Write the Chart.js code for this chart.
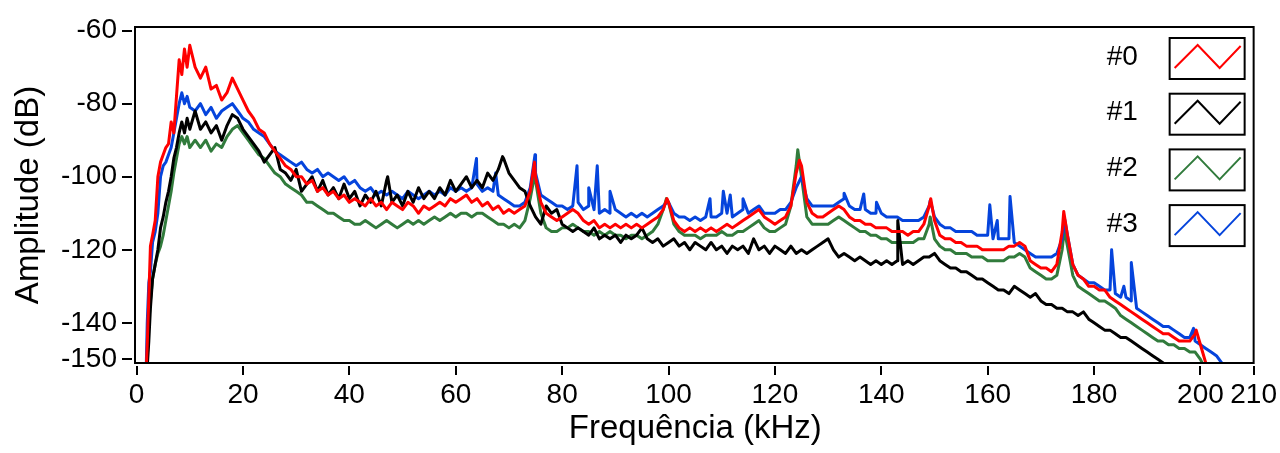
<!DOCTYPE html>
<html>
<head>
<meta charset="utf-8">
<script src="https://cdn.jsdelivr.net/npm/chart.js@4/dist/chart.umd.min.js"></script>
<style>
  html, body { margin: 0; padding: 0; background: #fff; }
  #wrap { width: 1280px; height: 453px; position: relative; }
</style>
</head>
<body>
<div id="wrap"><canvas id="c" width="1280" height="453"></canvas></div>
<script>
// ---- data (frequency in kHz, amplitude in dB) ----
const freq = [
  1.8, 2, 2.3, 2.6, 3, 3.5, 4, 4.5, 5, 5.5, 6, 6.5, 7, 7.5, 8, 8.5, 9, 9.5, 10,
  11, 12, 13, 14, 15, 16, 17, 18, 19, 20,
  21, 22, 23, 24, 25, 26, 27, 28, 29, 30,
  31, 32, 33, 34, 35, 36, 37, 38, 39, 40,
  41, 42, 43, 44, 45, 46, 47, 48, 49, 50,
  51, 52, 53, 54, 55, 56, 57, 58, 59, 60,
  61, 62, 63, 64, 65, 66, 67, 68, 69, 70,
  71, 72, 73, 74, 75, 76, 77, 78, 79, 80,
  81, 82, 83, 84, 85, 86, 87, 88, 89, 90,
  91, 92, 93, 94, 95, 96, 97, 98, 99, 100,
  101, 102, 103, 104, 105, 106, 107, 108, 109, 110,
  111, 112, 113, 114, 115, 116, 117, 118, 119, 120,
  121, 122, 123, 124, 125, 126, 127, 128, 129, 130,
  131, 132, 133, 134, 135, 136, 137, 138, 139, 140,
  141, 142, 143, 144, 145, 146, 147, 148, 149, 150,
  151, 152, 153, 154, 155, 156, 157, 158, 159, 160,
  161, 162, 163, 164, 165, 166, 167, 168, 169, 170,
  171, 172, 173, 174, 175, 176, 177, 178, 179, 180,
  181, 182, 183, 184, 185, 186, 187, 188, 189, 190,
  191, 192, 193, 194, 195, 196, 197, 198, 199, 200,
  201, 202, 203, 204, 205
];

const series0 = [ // #0 red
  -153, -146, -133, -119, -116, -112, -100, -96, -94, -92, -91, -85, -88, -78, -68, -72, -65, -70, -64,
  -70, -73, -70, -76, -75, -79, -77, -73, -76, -79,
  -82, -84, -87, -88, -91, -93, -95, -97, -98, -100,
  -100, -102, -101, -104, -103, -105, -104, -106, -105, -107,
  -106, -107, -108, -106, -108, -107, -109, -107, -108, -109,
  -107, -108, -110, -108, -109, -108, -107, -108, -106, -107,
  -106, -105, -107, -106, -108, -107, -109, -108, -110, -109,
  -110, -109, -108, -104, -100, -107, -110, -111, -112, -111,
  -110, -109, -110, -112, -113, -112, -114, -113, -114, -113,
  -114, -113, -114, -113, -114, -113, -112, -111, -109, -107,
  -112, -114, -115, -114, -115, -114, -115, -114, -115, -114,
  -113, -114, -113, -112, -111, -110, -109, -111, -112, -113,
  -112, -111, -108, -99, -97, -107, -110, -111, -111, -110,
  -109, -108, -109, -111, -112, -112, -113, -113, -114, -114,
  -114, -115, -115, -115, -116, -115, -115, -113, -108, -112,
  -116, -117, -117, -118, -118, -119, -119, -119, -120, -120,
  -120, -120, -120, -119, -119, -118, -119, -123, -124, -125,
  -125, -126, -124, -115, -116, -124, -127, -128, -130, -130,
  -131, -131, -133, -134, -135, -136, -137, -138, -139, -140,
  -141, -142, -143, -143, -144, -145, -145, -145, -143, -146,
  -151, -154, null, null, null
];

const series1 = [ // #1 black
  -153, -152, -145, -136, -128, -124, -120, -114, -111, -107, -104, -100, -95, -92, -88, -85, -88, -84, -87,
  -82, -87, -85, -88, -86, -90, -86, -83, -84, -87,
  -89, -91, -93, -96, -94, -92, -98, -99, -101, -98,
  -104, -102, -100, -104, -101, -105, -103, -106, -102, -106,
  -104, -108, -105, -107, -104, -108, -101, -107, -105, -108,
  -104, -107, -103, -106, -104, -106, -103, -105, -101, -104,
  -102, -100, -103, -101, -103, -99, -101, -98, -95, -99,
  -101, -103, -104, -108, -111, -113, -108, -110, -109, -113,
  -114, -115, -114, -115, -116, -114, -117, -116, -117, -116,
  -118, -116, -117, -116, -114, -117, -118, -117, -119, -118,
  -117, -119, -118, -120, -118, -119, -120, -118, -120, -119,
  -121, -119, -120, -119, -121, -117, -120, -119, -121, -119,
  -120, -121, -119, -121, -120, -121, -120, -119, -118, -117,
  -120, -122, -121, -122, -123, -122, -123, -124, -123, -124,
  -123, -124, -123, -124, -123, -124, -123, -122, -122, -121,
  -123, -124, -125, -125, -126, -126, -127, -128, -128, -129,
  -130, -131, -131, -132, -130, -131, -132, -133, -132, -134,
  -135, -135, -136, -136, -137, -137, -138, -137, -139, -140,
  -141, -142, -142, -143, -144, -144, -145, -146, -147, -148,
  -149, -150, -151, -153, null, null, null, null, null, null,
  null, null, null, null, null
];

const series2 = [ // #2 green
  -153, -150, -140, -134, -128, -124, -121, -119, -116, -112, -108, -104, -99, -95, -91, -89, -91, -89, -92,
  -90, -92, -90, -93, -91, -92, -89, -87, -86, -88,
  -90, -92, -94, -95, -97, -99, -100, -102, -103, -104,
  -105, -107, -107, -108, -109, -110, -110, -111, -112, -112,
  -113, -113, -112, -113, -114, -113, -112, -113, -114, -113,
  -112, -113, -112, -113, -112, -111, -112, -111, -110, -111,
  -110, -110, -111, -110, -110, -111, -112, -113, -113, -114,
  -113, -114, -112, -106, -101, -110, -114, -115, -115, -114,
  -114, -113, -114, -115, -115, -116, -115, -116, -115, -116,
  -116, -117, -116, -116, -117, -116, -115, -113, -109, -107,
  -113, -115, -116, -116, -116, -117, -116, -116, -116, -115,
  -116, -116, -115, -115, -114, -113, -112, -114, -115, -115,
  -114, -113, -108, -97, -100, -111, -113, -113, -113, -113,
  -112, -111, -112, -113, -114, -115, -115, -116, -116, -117,
  -117, -118, -118, -118, -118, -118, -117, -117, -113, -117,
  -119, -120, -120, -121, -121, -121, -122, -122, -122, -123,
  -123, -123, -123, -122, -122, -121, -122, -125, -126, -127,
  -128, -128, -127, -120, -119, -127, -130, -131, -132, -133,
  -134, -134, -135, -136, -138, -139, -140, -141, -142, -143,
  -144, -145, -145, -146, -146, -147, -147, -148, -148, -150,
  -153, null, null, null, null
];

const series3 = [ // #3 blue
  -153, -140, -129, -126, -118, -115, -110, -100, -97, -96, -94, -92, -88, -84, -80, -77, -80, -78, -81,
  -82, -80, -83, -81, -84, -82, -81, -80, -82, -84,
  -85, -87, -88, -89, -91, -93, -94, -95, -96, -97,
  -96, -98, -99, -98, -100, -99, -100, -101, -100, -102,
  -101, -103, -104, -103, -105, -104, -105, -104, -105, -106,
  -104, -105, -106, -105, -104, -105, -104, -105, -103, -104,
  -103, -104, -103, -102, -104, -103, -104, -105, -106, -107,
  -108, -108, -107, -103, -99, -105, -106, -107, -108, -108,
  -109, -108, -107, -109, -108, -109, -110, -109, -110, -109,
  -110, -111, -110, -111, -110, -111, -110, -109, -108, -107,
  -110, -111, -111, -112, -111, -112, -111, -111, -111, -110,
  -110, -111, -110, -109, -110, -109, -108, -110, -110, -110,
  -109, -109, -107, -103, -100, -106, -108, -108, -108, -108,
  -108, -107, -106, -108, -109, -109, -109, -110, -110, -110,
  -111, -111, -111, -112, -112, -112, -112, -111, -108, -111,
  -113, -114, -114, -115, -115, -115, -115, -116, -116, -116,
  -117, -117, -117, -117, -118, -119, -120, -121, -122, -122,
  -122, -122, -121, -117, -116, -124, -127, -128, -129, -129,
  -130, -131, -131, -132, -133, -133, -134, -136, -137, -138,
  -139, -140, -141, -141, -142, -143, -144, -144, -145, -146,
  -147, -148, -149, -151, -153
];

// narrow peaks / spikes [kHz, dB]
const peaks0 = [[74.8, -96], [99.7, -106], [124.6, -95.5], [149.3, -106], [174.3, -109.5], [199.2, -142]];
const peaks1 = [[47.2, -100], [68.8, -94.5], [143.1, -112]];
const peaks2 = [[74.9, -99], [99.6, -106], [124.3, -92.6], [149.2, -111], [174.4, -114.5]];
const peaks3 = [[63.9, -95], [67.5, -99], [74.9, -94], [82.8, -97], [85, -103], [86.6, -97], [89, -104],
  [99.7, -107], [107.8, -106], [110.3, -104], [111.6, -105], [114, -106], [133, -104.5], [136.7, -104.7],
  [139.1, -107], [149.2, -106.5], [160.4, -107.7], [161.8, -112], [164.2, -105.4], [174.5, -111.8],
  [183.3, -120], [185.6, -130], [187, -123.5], [198.7, -141.5]];

const seriesNames = ['#0', '#1', '#2', '#3'];
const seriesColors = ['#ff0000', '#000000', '#317b3c', '#0544dc'];
const xTicks = [0, 20, 40, 60, 80, 100, 120, 140, 160, 180, 200, 210];
const yTicks = [-60, -80, -100, -120, -140, -150];
const xTitle = 'Frequência (kHz)';
const yTitle = 'Amplitude (dB)';

// ---- build datasets ----
function build(vals, peaks) {
  const pts = freq.map((f, i) => ({ x: f, y: vals[i] }));
  peaks.forEach(p => pts.push({ x: p[0], y: p[1] }));
  pts.sort((a, b) => a.x - b.x);
  return pts;
}
const allVals = [series0, series1, series2, series3];
const allPeaks = [peaks0, peaks1, peaks2, peaks3];
const drawOrder = [0, 1, 3, 2]; // red on top, then black, blue, green beneath

const datasets = allVals.map((v, i) => ({
  label: seriesNames[i],
  data: build(v, allPeaks[i]),
  borderColor: seriesColors[i],
  backgroundColor: seriesColors[i],
  borderWidth: 3,
  pointRadius: 0,
  tension: 0,
  spanGaps: false,
  borderJoinStyle: 'round',
  order: drawOrder[i]
}));

const FONT = '"Liberation Sans", Arial, Helvetica, sans-serif';

const deco = {
  id: 'deco',
  afterDraw(chart) {
    const { ctx, chartArea: a, scales: { x, y } } = chart;
    ctx.save();
    ctx.strokeStyle = '#000';
    ctx.lineWidth = 2;
    ctx.strokeRect(a.left, a.top, a.right - a.left, a.bottom - a.top);
    ctx.beginPath();
    xTicks.forEach(v => {
      const px = Math.round(x.getPixelForValue(v));
      ctx.moveTo(px, a.bottom + 3); ctx.lineTo(px, a.bottom + 12);
    });
    yTicks.forEach(v => {
      const py = Math.round(y.getPixelForValue(v));
      ctx.moveTo(a.left - 3, py); ctx.lineTo(a.left - 13, py);
    });
    ctx.stroke();

    // axis titles
    ctx.fillStyle = '#000';
    ctx.font = '33px ' + FONT;
    ctx.textAlign = 'center';
    ctx.textBaseline = 'middle';
    ctx.fillText(xTitle, (a.left + a.right) / 2 + 1, 429);
    ctx.save();
    ctx.translate(29, 195);
    ctx.rotate(-Math.PI / 2);
    ctx.fillText(yTitle, 0, 0);
    ctx.restore();

    // legend
    ctx.font = '28px ' + FONT;
    ctx.textAlign = 'left';
    seriesNames.forEach((name, i) => {
      const top = a.top + 11 + i * 55.7;
      const bx = a.right - 84, bw = 75, bh = 41;
      ctx.fillStyle = '#000';
      ctx.fillText(name, a.right - 147, top + 19);
      ctx.lineWidth = 2;
      ctx.strokeStyle = '#000';
      ctx.strokeRect(bx, top, bw, bh);
      ctx.strokeStyle = seriesColors[i];
      ctx.beginPath();
      ctx.moveTo(bx + 5, top + 30);
      ctx.lineTo(bx + 28, top + 7);
      ctx.lineTo(bx + 50, top + 30);
      ctx.lineTo(bx + 71, top + 8);
      ctx.stroke();
    });
    ctx.restore();
  }
};

new Chart(document.getElementById('c'), {
  type: 'line',
  data: { datasets },
  plugins: [deco],
  options: {
    responsive: false,
    animation: false,
    events: [],
    layout: { padding: { left: 0, right: 23, top: 27, bottom: 0 } },
    plugins: { legend: { display: false }, tooltip: { enabled: false } },
    scales: {
      x: {
        type: 'linear',
        min: -0.3,
        max: 210,
        afterBuildTicks: s => { s.ticks = xTicks.map(v => ({ value: v })); },
        afterFit: s => { s.height = 90; },
        grid: { drawOnChartArea: false, drawTicks: true, tickLength: 12, color: 'rgba(0,0,0,0)', tickColor: 'rgba(0,0,0,0)' },
        border: { display: false },
        ticks: { autoSkip: false, maxRotation: 0, padding: 3, color: '#000', font: { family: FONT, size: 28 } }
      },
      y: {
        type: 'linear',
        min: -151,
        max: -59,
        afterBuildTicks: s => { s.ticks = yTicks.map(v => ({ value: v })); },
        afterFit: s => { s.width = 135; },
        grid: { drawOnChartArea: false, drawTicks: true, tickLength: 13, color: 'rgba(0,0,0,0)', tickColor: 'rgba(0,0,0,0)' },
        border: { display: false },
        ticks: { autoSkip: false, padding: 5, color: '#000', font: { family: FONT, size: 28 } }
      }
    }
  }
});
</script>
</body>
</html>
